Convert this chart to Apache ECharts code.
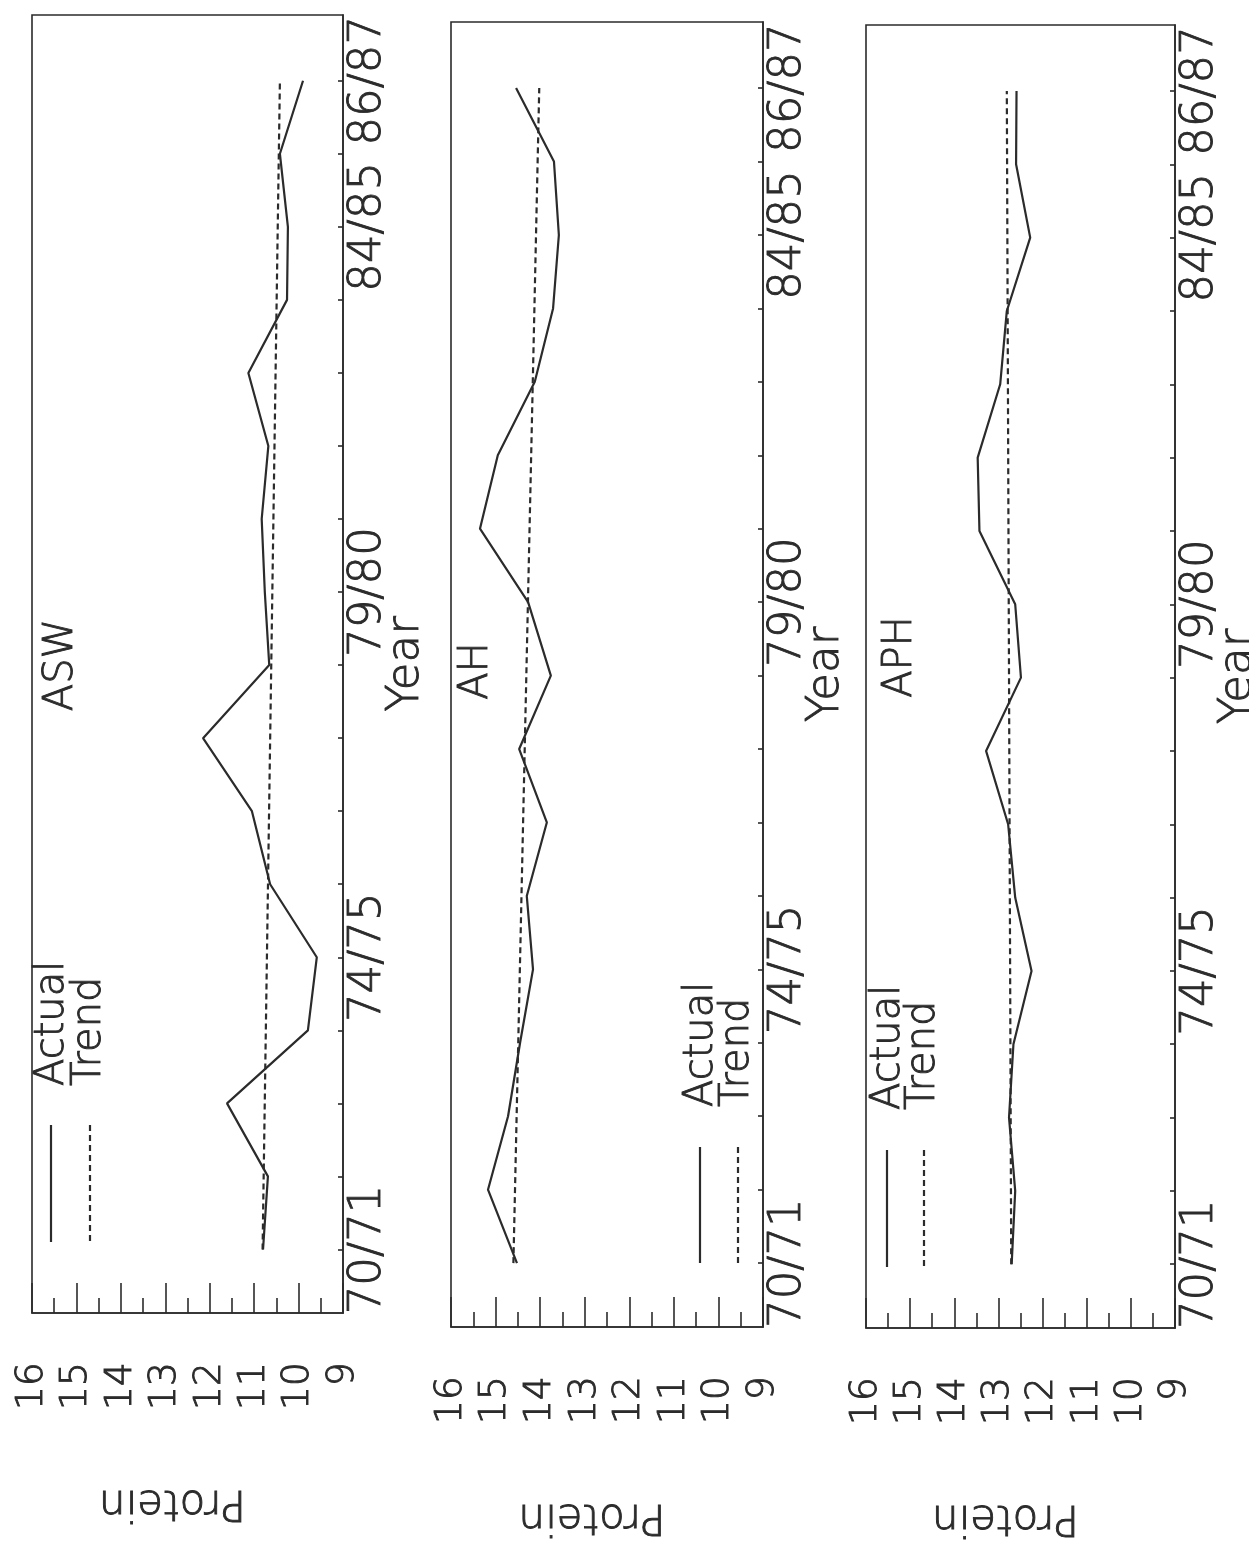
<!DOCTYPE html>
<html>
<head>
<meta charset="utf-8">
<script src="https://cdn.jsdelivr.net/npm/echarts@6/dist/echarts.min.js"></script>
<style>
html,body{margin:0;padding:0;background:#fff;}
#chart{width:1249px;height:1543px;}
</style>
</head>
<body>
<div id="chart"></div>
<script>
// ---------- data ----------
const seasons = ['70/71','71/72','72/73','73/74','74/75','75/76','76/77','77/78','78/79',
                 '79/80','80/81','81/82','82/83','83/84','84/85','85/86','86/87'];
const labelledSeasons = ['70/71','74/75','79/80','84/85','86/87'];
const panelNames = ['ASW','AH','APH'];
const seriesNames = ['Actual','Trend'];

const aswActual = [10.80,10.69,11.61,9.79,9.59,10.64,11.05,12.15,10.66,10.76,10.83,10.68,11.13,10.26,10.24,10.42,9.90];
const aswTrend  = [10.81,10.42];   // first and last season
const ahActual  = [14.52,15.17,14.72,14.45,14.16,14.30,13.85,14.47,13.76,14.27,15.35,14.95,14.12,13.71,13.58,13.69,14.54];
const ahTrend   = [14.60,14.02];
const aphActual = [12.70,12.62,12.76,12.66,12.25,12.62,12.78,13.28,12.49,12.62,13.43,13.47,12.96,12.81,12.28,12.60,12.59];
const aphTrend  = [12.71,12.81];

const proteinMin = 9, proteinMax = 16;

// ---------- layout / style ----------
const INK = '#2b2b2b';
const FONT = '"DejaVu Sans", sans-serif';
const TXT = {color:INK, fontFamily:FONT, fontWeight:200, textBorderColor:INK, textBorderWidth:0.9};
const grids = [
  {left:32,  top:15, width:311, height:1298},
  {left:451, top:22, width:312, height:1305},
  {left:866, top:25, width:309, height:1303}
];
const titlePos = [[62,665],[477,671],[901,657]];
const legendPos = [
  {x1:51,  x2:90,  yTop:1125, yBot:1242, textY:1086},
  {x1:700, x2:738, yTop:1147, yBot:1263, textY:1107},
  {x1:887, x2:924, yTop:1150, yBot:1267, textY:1110}
];

const actuals = [aswActual, ahActual, aphActual];
const trends = [aswTrend, ahTrend, aphTrend];
const seasonIdx = seasons.map((s,i)=>i);
const labelIdx = labelledSeasons.map(s=>seasons.indexOf(s));

const xAxes = grids.map((g,i)=>({
  type:'value', gridIndex:i, min:proteinMin, max:proteinMax, interval:1, inverse:true, position:'bottom',
  axisLine:{show:true, onZero:false, lineStyle:{color:INK, width:1.6}},
  axisTick:{show:true, inside:true, length:30, lineStyle:{color:INK, width:1.6}},
  minorTick:{show:true, splitNumber:2, length:15, lineStyle:{color:INK, width:1.6}},
  splitLine:{show:false}, minorSplitLine:{show:false},
  axisLabel:Object.assign({rotate:90, margin:49, fontSize:38, showMinLabel:true, showMaxLabel:true}, TXT),
  name:'Protein', nameLocation:'middle', nameRotate:180, nameGap:168, nameMoveOverlap:false,
  nameTextStyle:Object.assign({fontSize:42, padding:[0,0,0,30]}, TXT)
}));

const yAxes = grids.map((g,i)=>({
  type:'value', gridIndex:i, min:-0.87, max:16.9, position:'right',
  axisLine:{show:true, onZero:false, lineStyle:{color:INK, width:1.6}},
  axisTick:{show:true, inside:true, length:5, customValues:seasonIdx, lineStyle:{color:INK, width:1.6}},
  axisLabel:Object.assign({rotate:90, margin:3, fontSize:45, customValues:labelIdx,
             formatter:v=>seasons[Math.round(v)]}, TXT),
  splitLine:{show:false},
  name:'Year', nameLocation:'middle', nameRotate:90, nameGap:41, nameMoveOverlap:false,
  nameTextStyle:Object.assign({fontSize:45}, TXT)
}));

const series = [];
grids.forEach((g,i)=>{
  series.push({
    name:seriesNames[0], type:'line', xAxisIndex:i, yAxisIndex:i, symbol:'none', silent:true,
    data: actuals[i].map((v,k)=>[v, seasonIdx[k]]),
    lineStyle:{color:INK, width:2.2}
  });
  series.push({
    name:seriesNames[1], type:'line', xAxisIndex:i, yAxisIndex:i, symbol:'none', silent:true,
    data: [[trends[i][0], 0], [trends[i][1], seasons.length-1]],
    lineStyle:{color:INK, width:2.2, type:[6,4]}
  });
});

const gText = (text, x, y, align) => ({type:'text', x:x, y:y, rotation:Math.PI/2,
  style:{text:text, fontSize:40, fontFamily:FONT, fontWeight:200, fill:INK, stroke:INK, lineWidth:0.9,
         align:align, verticalAlign:'middle'}});

const graphic = [];
panelNames.forEach((n,i)=>{
  graphic.push(gText(n, titlePos[i][0], titlePos[i][1], 'center'));
  const L = legendPos[i];
  graphic.push({type:'line', shape:{x1:L.x1, y1:L.yTop, x2:L.x1, y2:L.yBot}, style:{stroke:INK, lineWidth:2.2}});
  graphic.push({type:'line', shape:{x1:L.x2, y1:L.yTop, x2:L.x2, y2:L.yBot}, style:{stroke:INK, lineWidth:2.2, lineDash:[6,4]}});
  graphic.push(gText(seriesNames[0], L.x1+2, L.textY, 'left'));
  graphic.push(gText(seriesNames[1], L.x2, L.textY, 'left'));
});

const chart = echarts.init(document.getElementById('chart'), null, {renderer:'canvas'});
chart.setOption({
  backgroundColor:'#ffffff',
  animation:false,
  grid: grids.map(g=>({left:g.left, top:g.top, width:g.width, height:g.height, show:true,
                       borderColor:INK, borderWidth:1.6, backgroundColor:'transparent',
                       containLabel:false, outerBoundsMode:'none'})),
  xAxis: xAxes,
  yAxis: yAxes,
  series: series,
  graphic: graphic
});
</script>
</body>
</html>
